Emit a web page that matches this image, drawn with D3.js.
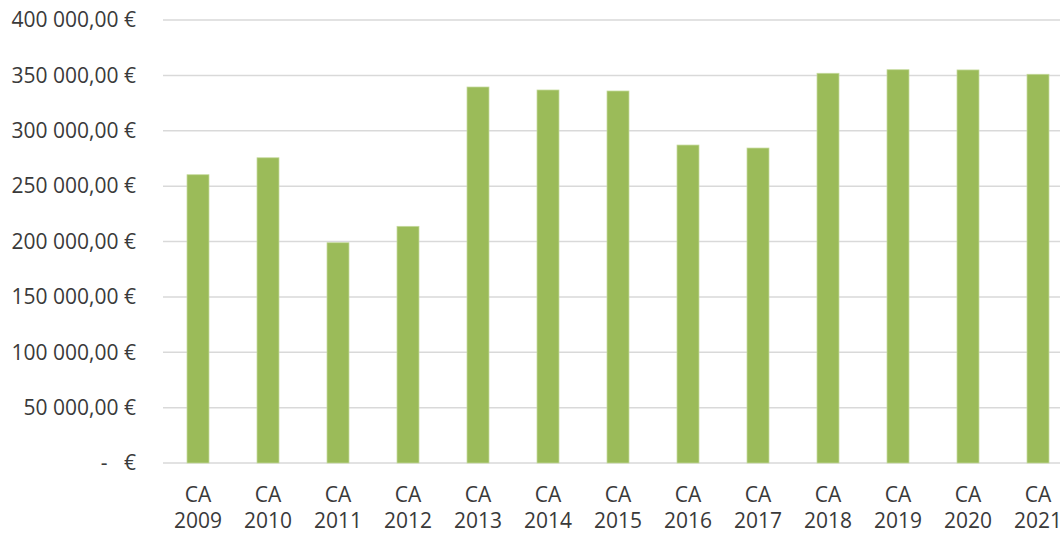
<!DOCTYPE html>
<html>
<head>
<meta charset="utf-8">
<script src="https://cdn.jsdelivr.net/npm/d3@7"></script>
<style>
  body { margin: 0; background: #fff; }
  text { font-family: "Open Sans", sans-serif; fill: #3a3a3a; }
</style>
</head>
<body>
<div id="chart"></div>
<script>
// chiffre d'affaires par année
var years = ["2009", "2010", "2011", "2012", "2013", "2014", "2015", "2016", "2017", "2018", "2019", "2020", "2021"];
var values = [260300, 275600, 198900, 213700, 339500, 336800, 335900, 287100, 284400, 351900, 355100, 354900, 351000];
var yTicks = [0, 50000, 100000, 150000, 200000, 250000, 300000, 350000, 400000];

var width = 1060, height = 533;
var margin = {top: 20, right: -13, bottom: 70, left: 163};

var svg = d3.select("#chart")
  .append("svg")
  .attr("width", width)
  .attr("height", height);

var x = d3.scaleBand()
  .domain(years)
  .range([margin.left, width - margin.right])
  .paddingInner(0.686)
  .paddingOuter(0.343);

var y = d3.scaleLinear()
  .domain([0, 400000])
  .range([height - margin.bottom, margin.top]);

var fr = d3.formatLocale({decimal: ",", thousands: "\u00a0", grouping: [3], currency: ["", " €"]});
var fmt = fr.format(",.2f");

// grille
svg.append("g")
  .selectAll("line")
  .data(yTicks)
  .join("line")
  .attr("x1", margin.left)
  .attr("x2", width)
  .attr("y1", d => y(d))
  .attr("y2", d => y(d))
  .attr("stroke", "#d9d9d9")
  .attr("stroke-width", 1.5);

// axe Y
svg.append("g")
  .selectAll("text")
  .data(yTicks)
  .join("text")
  .attr("x", 136)
  .attr("y", d => y(d))
  .attr("dy", "0.35em")
  .attr("text-anchor", "end")
  .style("font-size", "21px")
  .text(d => d === 0 ? "-\u00a0\u00a0\u00a0€" : fmt(d) + " €");

// barres
svg.append("g")
  .selectAll("rect")
  .data(values)
  .join("rect")
  .attr("x", (d, i) => x(years[i]))
  .attr("y", d => y(d))
  .attr("width", x.bandwidth())
  .attr("height", d => y(0) - y(d))
  .attr("fill", "#9bbb59")
  .attr("stroke", "#c5da9c")
  .attr("stroke-width", 0.75);

// axe X
var xl = svg.append("g")
  .selectAll("text")
  .data(years)
  .join("text")
  .attr("x", d => x(d) + x.bandwidth() / 2)
  .attr("text-anchor", "middle")
  .style("font-size", "21px");
xl.append("tspan").attr("x", d => x(d) + x.bandwidth() / 2).attr("y", 502).text("CA");
xl.append("tspan").attr("x", d => x(d) + x.bandwidth() / 2).attr("y", 528).text(d => d);
</script>
</body>
</html>
